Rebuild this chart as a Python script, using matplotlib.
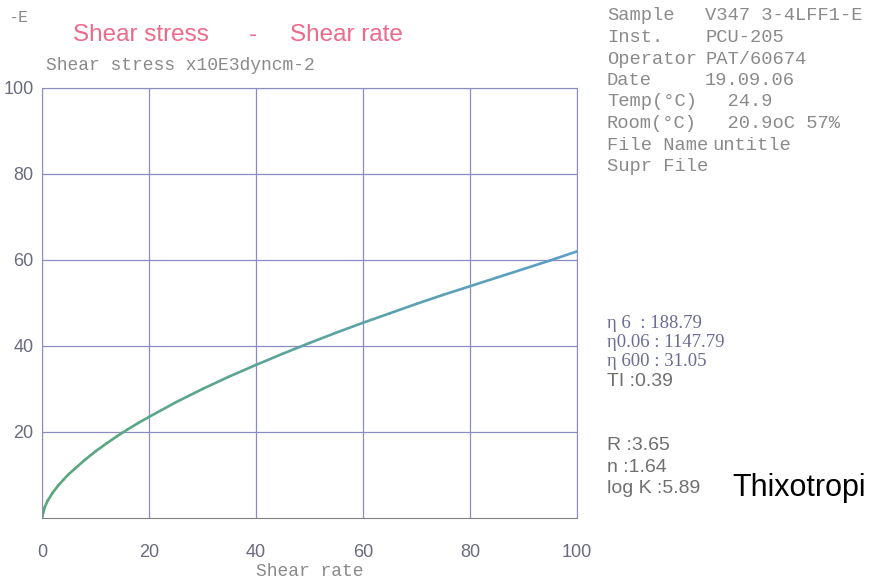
import matplotlib
matplotlib.use('Agg')
import matplotlib.pyplot as plt
import numpy as np
from matplotlib.collections import LineCollection
from matplotlib.colors import LinearSegmentedColormap

# values
shear_rate = [0, 0.5, 1, 2, 3, 4, 5, 6, 8, 10, 12, 14, 16, 18, 20, 25, 30, 35,
              40, 45, 50, 55, 60, 65, 70, 75, 80, 85, 90, 95, 100]
shear_stress = [0, 2.5, 3.9, 5.9, 7.5, 8.9, 10.2, 11.3, 13.5, 15.5, 17.3, 19.0,
                20.6, 22.1, 23.5, 26.9, 30.0, 32.9, 35.6, 38.2, 40.7, 43.1,
                45.4, 47.6, 49.8, 51.9, 53.9, 55.9, 57.9, 59.9, 62.0]
x_ticks = [0, 20, 40, 60, 80, 100]
y_ticks = [20, 40, 60, 80, 100]

info_keys = ['Sample', 'Inst.', 'Operator', 'Date', 'Temp(\u00b0C)', 'Room(\u00b0C)',
             'File Name', 'Supr File']
info_vals = ['V347 3-4LFF1-E', 'PCU-205', 'PAT/60674', '19.09.06', '  24.9',
             '  20.9oC 57%', 'untitle', '']
eta_lines = ['\u03b7 6  : 188.79', '\u03b70.06 : 1147.79', '\u03b7 600 : 31.05']
fit_lines = ['TI :0.39', '', '', 'R :3.65', 'n :1.64', 'log K :5.89']

MONO = 'Liberation Mono'
SANS = 'Liberation Sans'
SERIF = 'Liberation Serif'
GRID = '#8c8cc0'
TICK = '#6a6a80'
GRAY = '#8a8a8a'

fig = plt.figure(figsize=(8.72, 5.82), dpi=100)
ax = fig.add_axes([0.0482, 0.110, 0.6135, 0.7388])

x = np.array(shear_rate)
y = np.array(shear_stress)
pts = np.array([x, y]).T.reshape(-1, 1, 2)
segs = np.concatenate([pts[:-1], pts[1:]], axis=1)
cmap = LinearSegmentedColormap.from_list('sg', ['#5aa878', '#5c9fc9'])
lc = LineCollection(segs, cmap=cmap, linewidth=1.9, capstyle='round', joinstyle='round')
lc.set_array(x[:-1])
ax.add_collection(lc)

ax.set_xlim(0, 100)
ax.set_ylim(0, 100)
ax.set_xticks(x_ticks)
ax.set_yticks(y_ticks)
ax.grid(True, color=GRID, linewidth=0.9)
ax.tick_params(length=0, labelsize=13, labelcolor=TICK)
for lab in ax.get_xticklabels() + ax.get_yticklabels():
    lab.set_family(SANS)
ax.tick_params(axis='x', pad=19)
ax.tick_params(axis='y', pad=6)
for s in ['top', 'right', 'left']:
    ax.spines[s].set_color(GRID)
ax.spines['bottom'].set_color('#808080')
ax.set_xlabel('Shear rate', family=MONO, fontsize=13, color=GRAY, labelpad=1)

fig.text(8/872, 1 - 18/582, '-E', family=MONO, fontsize=12, color=GRAY, va='center')
fig.text(73/872, 1 - 35/582, 'Shear stress', family=SANS, fontsize=17.5, color='#ee6a8a', va='center')
fig.text(249/872, 1 - 35/582, '-', family=SANS, fontsize=17.5, color='#ee6a8a', va='center')
fig.text(290/872, 1 - 35/582, 'Shear rate', family=SANS, fontsize=17.5, color='#ee6a8a', va='center')
fig.text(46/872, 1 - 65/582, 'Shear stress x10E3dyncm-2', family=MONO, fontsize=13,
         color=GRAY, va='center')

for i, (k, v) in enumerate(zip(info_keys, info_vals)):
    yy = 1 - (16 + 21.5 * i) / 582
    vx = 712 if k == 'File Name' else 705
    fig.text(607/872, yy, k, family=MONO, fontsize=13.5, color=GRAY, va='center')
    fig.text(vx/872, yy, v, family=MONO, fontsize=13.5, color=GRAY, va='center')

for i, t in enumerate(eta_lines):
    fig.text(607/872, 1 - (323 + 19.5 * i) / 582, t, family=SERIF, fontsize=13.5,
             color='#6b6b95', va='center')
for i, t in enumerate(fit_lines):
    if t:
        fig.text(607/872, 1 - (381 + 21.5 * i) / 582, t, family=SANS, fontsize=14,
                 color='#6e706e', va='center')

fig.text(732/872, 1 - 488/582, 'Thixotropi', family=SANS, fontsize=22, color='black',
         va='center')

fig.savefig('out.png', dpi=100)
